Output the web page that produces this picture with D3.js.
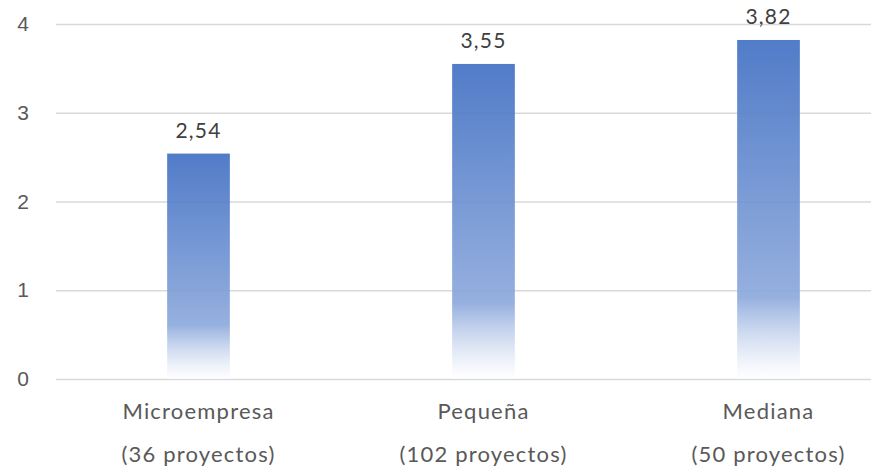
<!DOCTYPE html>
<html>
<head>
<meta charset="utf-8">
<script src="https://cdn.jsdelivr.net/npm/d3@7"></script>
<style>
  body { margin: 0; background: #fff; }
  svg { display: block; font-family: Lato, "Open Sans", sans-serif; }
</style>
</head>
<body>
<svg></svg>
<script>
let categories = ['Microempresa', 'Pequeña', 'Mediana'];
let subLabels = ['(36 proyectos)', '(102 proyectos)', '(50 proyectos)'];
let values = [2.54, 3.55, 3.82];
let yTicks = [0, 1, 2, 3, 4];

let w = 871;
let h = 475;
let svg = d3.select('svg').attr('width', w).attr('height', h);

let fmt = (v) => v.toFixed(2).replace('.', ',');

let xScale = d3.scaleBand()
  .domain(categories)
  .range([56, 911])
  .paddingInner(0.78)
  .paddingOuter(0.39);

let yScale = d3.scaleLinear()
  .domain([0, 4])
  .range([379, 24]);

// gradient de azul a blanco
let grad = svg.append('defs').append('linearGradient')
  .attr('id', 'barGrad')
  .attr('x1', 0).attr('y1', 0).attr('x2', 0).attr('y2', 1);
grad.append('stop').attr('offset', '0%').attr('stop-color', '#4472c4');
grad.append('stop').attr('offset', '76%').attr('stop-color', '#8eaadc');
grad.append('stop').attr('offset', '100%').attr('stop-color', '#ffffff').attr('stop-opacity', 0.6);

// gridlines
let yAxis = d3.axisLeft(yScale)
  .tickValues(yTicks)
  .tickSize(-(w - 56))
  .tickFormat(d3.format('d'))
  .tickPadding(26);

let gy = svg.append('g')
  .attr('id', 'y-axis')
  .attr('transform', 'translate(56,0)')
  .call(yAxis);
gy.select('.domain').remove();
gy.selectAll('line').attr('stroke', '#d9d9d9').attr('stroke-width', 1.3);
gy.selectAll('text')
  .attr('fill', '#595959')
  .style('font-size', '21px')
  .style('letter-spacing', '1px');

svg.selectAll('rect.bar')
  .data(values)
  .enter()
  .append('rect')
  .attr('class', 'bar')
  .attr('x', (d, i) => xScale(categories[i]))
  .attr('width', xScale.bandwidth())
  .attr('y', (d) => yScale(d))
  .attr('height', (d) => yScale(0) - yScale(d))
  .attr('fill', 'url(#barGrad)')
  .attr('fill-opacity', 0.93);

svg.selectAll('text.val')
  .data(values)
  .enter()
  .append('text')
  .attr('class', 'val')
  .attr('x', (d, i) => xScale(categories[i]) + xScale.bandwidth() / 2)
  .attr('y', (d) => yScale(d) - 16)
  .attr('text-anchor', 'middle')
  .attr('fill', '#404040')
  .style('font-size', '21px')
  .style('letter-spacing', '1.2px')
  .text((d) => fmt(d));

svg.selectAll('text.cat')
  .data(categories)
  .enter()
  .append('text')
  .attr('class', 'cat')
  .attr('x', (d) => xScale(d) + xScale.bandwidth() / 2)
  .attr('y', 419)
  .attr('text-anchor', 'middle')
  .attr('fill', '#595959')
  .style('font-size', '22px')
  .style('letter-spacing', '1.2px')
  .text((d) => d);

svg.selectAll('text.sub')
  .data(subLabels)
  .enter()
  .append('text')
  .attr('class', 'sub')
  .attr('x', (d, i) => xScale(categories[i]) + xScale.bandwidth() / 2)
  .attr('y', 462)
  .attr('text-anchor', 'middle')
  .attr('fill', '#595959')
  .style('font-size', '22px')
  .style('letter-spacing', '1.2px')
  .text((d) => d);
</script>
</body>
</html>
